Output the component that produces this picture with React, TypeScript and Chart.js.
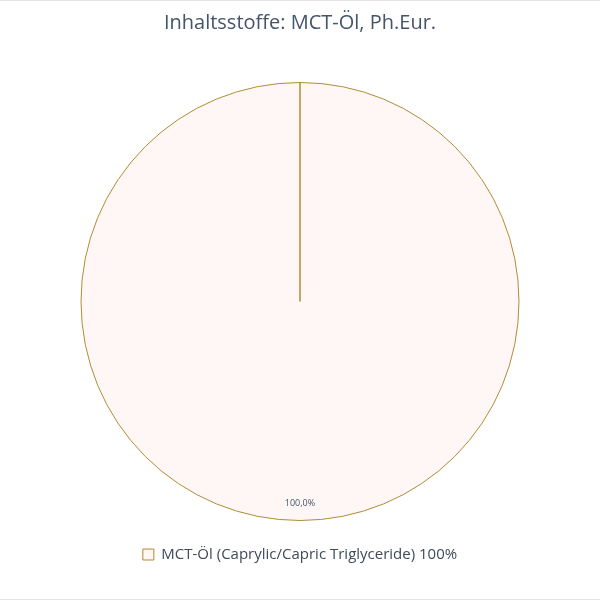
import { useEffect, useRef } from "react";
import { Chart, registerables, type Plugin } from "chart.js";

Chart.register(...registerables);

const labels = ["MCT-Öl (Caprylic/Capric Triglyceride) 100%"];
const values = [100];
const valueLabels = ["100,0%"];

const FONT = "'Open Sans', 'Liberation Sans', sans-serif";

// writes the percentage inside each slice, near the rim
const sliceLabels: Plugin<"pie"> = {
  id: "sliceLabels",
  afterDatasetsDraw(chart) {
    const { ctx } = chart;
    const meta = chart.getDatasetMeta(0);
    ctx.save();
    ctx.font = `9px ${FONT}`;
    ctx.fillStyle = "#44546A";
    ctx.textAlign = "center";
    ctx.textBaseline = "middle";
    meta.data.forEach((el: any, i) => {
      const { x, y, startAngle, endAngle, outerRadius } = el.getProps(
        ["x", "y", "startAngle", "endAngle", "outerRadius"],
        true
      );
      const mid = (startAngle + endAngle) / 2;
      const r = outerRadius * 0.92;
      ctx.fillText(valueLabels[i], x + Math.cos(mid) * r, y + Math.sin(mid) * r);
    });
    ctx.restore();
  },
};

function PieChart() {
  const canvasRef = useRef<HTMLCanvasElement>(null);

  useEffect(() => {
    if (!canvasRef.current) return;
    const chart = new Chart(canvasRef.current, {
      type: "pie",
      data: {
        labels,
        datasets: [
          {
            data: values,
            backgroundColor: "#FEF7F5",
            borderColor: "#B08C35",
            borderWidth: 1,
          },
        ],
      },
      options: {
        responsive: true,
        maintainAspectRatio: false,
        animation: false,
        layout: { padding: { top: 0, bottom: 27, left: 0, right: 0 } },
        plugins: {
          title: {
            display: true,
            text: "Inhaltsstoffe: MCT-Öl, Ph.Eur.",
            color: "#44546A",
            font: { family: FONT, size: 20, weight: "normal" },
            padding: { top: 10, bottom: 47 },
          },
          legend: {
            position: "bottom",
            labels: {
              color: "#404A58",
              font: { family: FONT, size: 15 },
              boxWidth: 11,
              boxHeight: 11,
              padding: 26,
            },
          },
          tooltip: { enabled: false },
        },
      },
      plugins: [sliceLabels],
    });
    return () => chart.destroy();
  }, []);

  return (
    <div
      style={{
        position: "fixed",
        left: 0,
        top: 0,
        width: 600,
        height: 600,
        background: "#fff",
        borderTop: "1px solid #e4e4e4",
        borderBottom: "1px solid #e4e4e4",
        boxSizing: "border-box",
      }}
    >
      <canvas ref={canvasRef} />
    </div>
  );
}

export default function App() {
  return <PieChart />;
}
